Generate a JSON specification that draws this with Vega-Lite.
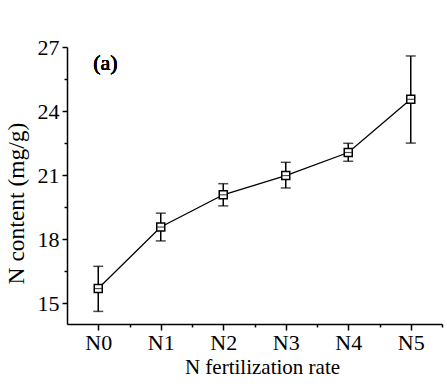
{
  "$schema": "https://vega.github.io/schema/vega-lite/v6.json",
  "width": 375,
  "height": 277,
  "autosize": {"type": "none"},
  "padding": {"left": 67, "top": 47, "right": 5, "bottom": 67},
  "background": "white",
  "config": {
    "view": {"stroke": null},
    "font": "Liberation Serif",
    "axis": {
      "domainColor": "black",
      "domainWidth": 1.5,
      "tickColor": "black",
      "tickWidth": 1.5,
      "grid": false,
      "labelColor": "black",
      "titleColor": "black",
      "labelFont": "Liberation Serif",
      "titleFont": "Liberation Serif",
      "labelFontSize": 22,
      "titleFontSize": 22,
      "titleFontWeight": "normal"
    }
  },
  "data": {
    "values": [
      {"rate": "N0", "n": 0, "mean": 15.69, "lo": 14.62, "hi": 16.73},
      {"rate": "N1", "n": 1, "mean": 18.57, "lo": 17.92, "hi": 19.22},
      {"rate": "N2", "n": 2, "mean": 20.08, "lo": 19.56, "hi": 20.6},
      {"rate": "N3", "n": 3, "mean": 20.98, "lo": 20.4, "hi": 21.6},
      {"rate": "N4", "n": 4, "mean": 22.06, "lo": 21.65, "hi": 22.49},
      {"rate": "N5", "n": 5, "mean": 24.55, "lo": 22.5, "hi": 26.58}
    ]
  },
  "resolve": {"axis": {"x": "independent", "y": "independent"}},
  "layer": [
    {
      "mark": {"type": "rule", "color": "black", "strokeWidth": 1.5},
      "encoding": {
        "x": {"field": "n", "type": "quantitative",
          "scale": {"domain": [-0.5, 5.5], "nice": false, "zero": false},
          "axis": {"orient": "bottom", "values": [0.5, 1.5, 2.5, 3.5, 4.5, 5.5], "labels": false, "tickSize": 3, "domain": false, "title": null}},
        "y": {"field": "lo", "type": "quantitative",
          "scale": {"domain": [14.03, 27], "nice": false, "zero": false},
          "axis": {"orient": "left", "values": [16.5, 19.5, 22.5, 25.5], "labels": false, "tickSize": 3, "domain": false, "title": null}},
        "y2": {"field": "hi"}
      }
    },
    {
      "mark": {"type": "tick", "orient": "horizontal", "color": "black", "size": 10, "thickness": 1.5},
      "encoding": {
        "x": {"field": "n", "type": "quantitative", "axis": null},
        "y": {"field": "lo", "type": "quantitative", "axis": null}
      }
    },
    {
      "mark": {"type": "tick", "orient": "horizontal", "color": "black", "size": 10, "thickness": 1.5},
      "encoding": {
        "x": {"field": "n", "type": "quantitative", "axis": null},
        "y": {"field": "hi", "type": "quantitative", "axis": null}
      }
    },
    {
      "mark": {"type": "line", "color": "black", "strokeWidth": 1.3},
      "encoding": {
        "x": {"field": "n", "type": "quantitative",
          "axis": {"orient": "bottom", "values": [0, 1, 2, 3, 4, 5], "labelExpr": "'N' + datum.value", "tickSize": 6, "labelPadding": 2, "title": "N fertilization rate", "titleFontSize": 21, "titleY": 49, "titleX": 195, "titleBaseline": "alphabetic"}},
        "y": {"field": "mean", "type": "quantitative",
          "axis": {"orient": "left", "values": [15, 18, 21, 24, 27], "tickSize": 5, "labelPadding": 3, "title": "N content (mg/g)", "titleFontSize": 23.5, "titleY": 156, "titleX": -44, "titleBaseline": "alphabetic"}}
      }
    },
    {
      "mark": {"type": "point", "shape": "square", "filled": true, "fill": "white", "stroke": "black", "strokeWidth": 1.5, "size": 64, "opacity": 1},
      "encoding": {
        "x": {"field": "n", "type": "quantitative", "axis": null},
        "y": {"field": "mean", "type": "quantitative", "axis": null}
      }
    },
    {
      "mark": {"type": "tick", "orient": "horizontal", "color": "black", "size": 7, "thickness": 1.2},
      "encoding": {
        "x": {"field": "n", "type": "quantitative", "axis": null},
        "y": {"field": "mean", "type": "quantitative", "axis": null}
      }
    },
    {
      "mark": {"type": "text", "text": "(a)", "align": "left", "baseline": "middle", "fontSize": 22, "fontWeight": 400, "font": "Liberation Serif", "color": "black"},
      "encoding": {
        "x": {"datum": -0.08, "type": "quantitative", "axis": null},
        "y": {"datum": 26.25, "type": "quantitative", "axis": null}
      }
    }
  ]
}
